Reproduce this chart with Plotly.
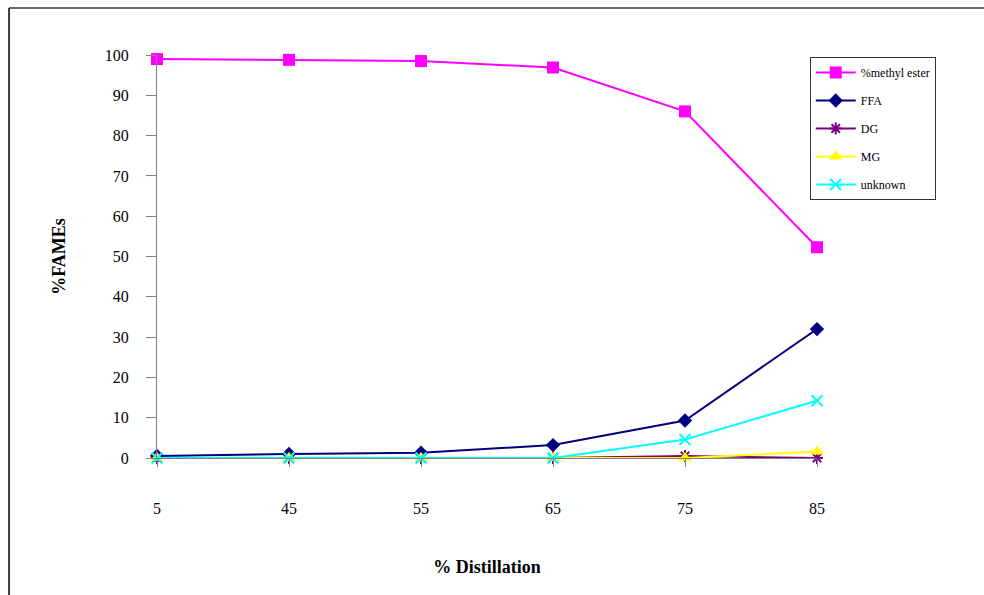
import plotly.graph_objects as go

# Composition of distillate fractions
distillation = ["5", "45", "55", "65", "75", "85"]
methyl_ester = [99.0, 98.8, 98.5, 96.9, 86.0, 52.3]
ffa = [0.5, 1.0, 1.3, 3.2, 9.3, 32.0]
dg = [0.0, 0.0, 0.0, 0.0, 0.5, 0.0]
mg = [0.0, 0.0, 0.0, 0.0, 0.0, 1.6]
unknown = [0.0, 0.0, 0.0, 0.0, 4.6, 14.2]
y_ticks = list(range(0, 101, 10))

SERIF = "Liberation Serif, Times New Roman, serif"

series = [
    ("%methyl ester", methyl_ester, "#FF00FF", dict(symbol="square", size=12)),
    ("FFA", ffa, "#000080", dict(symbol="diamond", size=11)),
    ("DG", dg, "#800080", dict(symbol="asterisk-open", size=10, line=dict(width=2, color="#800080"))),
    ("MG", mg, "#FFFF00", dict(symbol="triangle-up", size=12)),
    ("unknown", unknown, "#00FFFF", dict(symbol="x-thin-open", size=11, line=dict(width=2, color="#00FFFF"))),
]

fig = go.Figure()
for name, vals, color, marker in series:
    marker = dict(marker)
    marker["color"] = color
    fig.add_trace(go.Scatter(
        x=distillation, y=vals, name=name, mode="lines+markers",
        line=dict(color=color, width=2), marker=marker,
        legendgroup=name, cliponaxis=False,
    ))

fig.update_layout(
    width=984, height=595,
    margin=dict(l=157, r=167, t=55, b=137),
    paper_bgcolor="white", plot_bgcolor="white",
    font=dict(family=SERIF, color="black"),
    showlegend=True,
    legend=dict(
        x=0.989, y=0.995, xanchor="left", yanchor="top",
        bordercolor="#333333", borderwidth=1, bgcolor="white",
        font=dict(family=SERIF, size=12, color="black"),
        traceorder="grouped", tracegroupgap=9,
        itemwidth=40,
    ),
    xaxis=dict(
        type="category", range=[0, 5],
        showline=True, linecolor="#808080", linewidth=1,
        ticks="outside", ticklen=8, tickcolor="#808080",
        tickfont=dict(family=SERIF, size=16, color="black"),
        ticklabelstandoff=28,
        showgrid=False, zeroline=False,
        title=dict(text="<b>% Distillation</b>", font=dict(family=SERIF, size=18, color="black"), standoff=44),
    ),
    yaxis=dict(
        range=[0, 100], tickvals=y_ticks,
        showline=True, linecolor="#808080", linewidth=1,
        ticks="outside", ticklen=10, tickcolor="#808080",
        tickfont=dict(family=SERIF, size=16, color="black"),
        ticklabelstandoff=14,
        showgrid=False, zeroline=False,
        title=dict(text="<b>%FAMEs</b>", font=dict(family=SERIF, size=18, color="black"), standoff=34),
    ),
)

# Outer frame of the chart area (top and left edges)
fig.add_shape(type="line", xref="paper", yref="paper",
              x0=-0.2242, y0=-0.36, x1=-0.2242, y1=1.1166,
              line=dict(color="black", width=1.5))
fig.add_shape(type="line", xref="paper", yref="paper",
              x0=-0.2242, y0=1.1166, x1=1.27, y1=1.1166,
              line=dict(color="#333333", width=1.5))

fig.write_html("out.html")
